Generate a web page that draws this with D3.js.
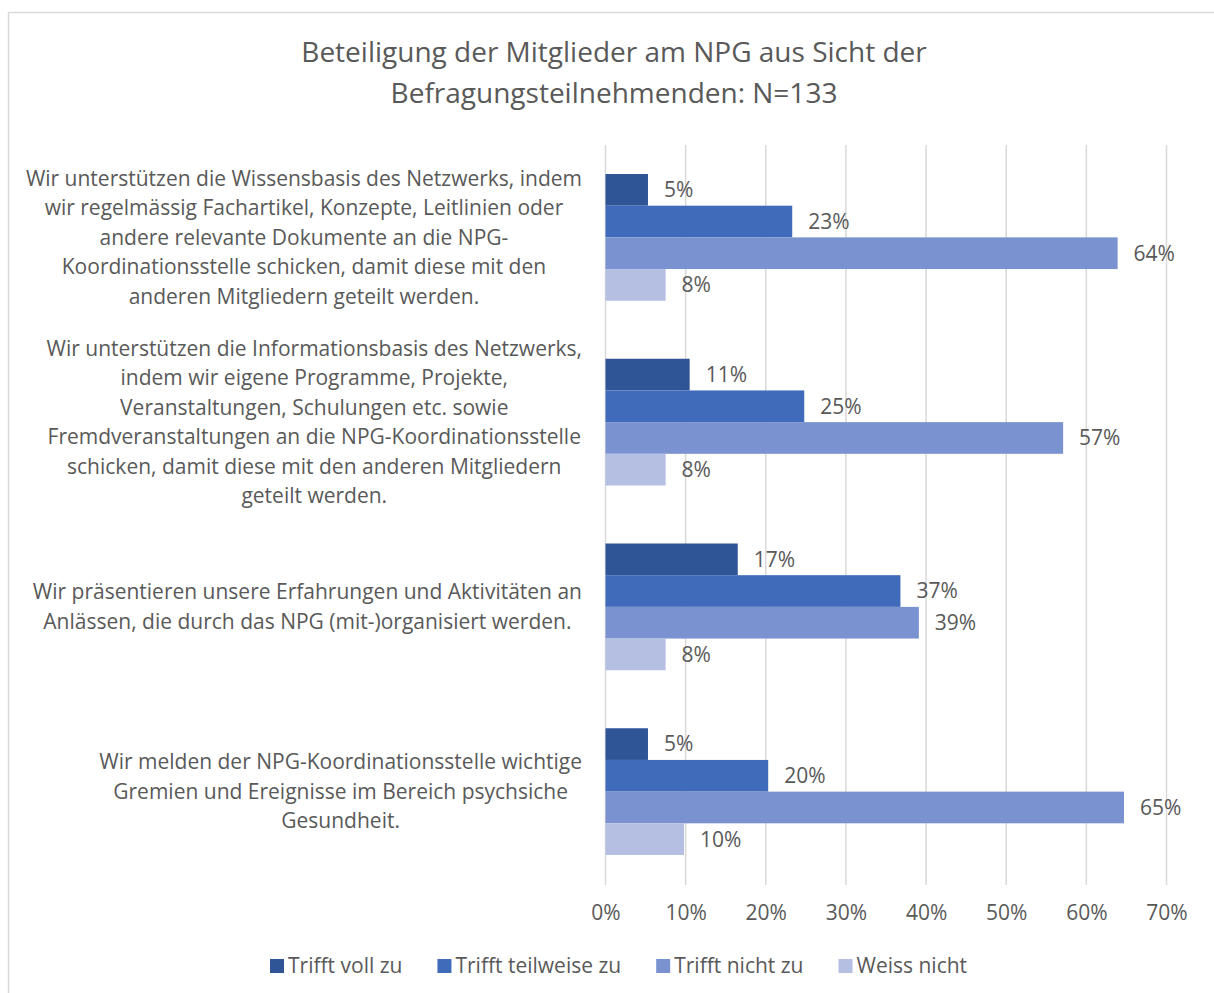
<!DOCTYPE html>
<html>
<head>
<meta charset="utf-8">
<script src="https://cdn.jsdelivr.net/npm/d3@7"></script>
<style>
  body { margin: 0; background: #fff; }
  text { font-family: "Open Sans", "Noto Sans", sans-serif; fill: #595959; }
</style>
</head>
<body>
<svg id="chart" width="1214" height="993"></svg>
<script>
// Chart data
const categories = [
  ["Wir unterstützen die Wissensbasis des Netzwerks, indem",
   "wir regelmässig Fachartikel, Konzepte, Leitlinien oder",
   "andere relevante Dokumente an die NPG-",
   "Koordinationsstelle schicken, damit diese mit den",
   "anderen Mitgliedern geteilt werden."],
  ["Wir unterstützen die Informationsbasis des Netzwerks,",
   "indem wir eigene Programme, Projekte,",
   "Veranstaltungen, Schulungen etc. sowie",
   "Fremdveranstaltungen an die NPG-Koordinationsstelle",
   "schicken, damit diese mit den anderen Mitgliedern",
   "geteilt werden."],
  ["Wir präsentieren unsere Erfahrungen und Aktivitäten an",
   "Anlässen, die durch das NPG (mit-)organisiert werden."],
  ["Wir melden der NPG-Koordinationsstelle wichtige",
   "Gremien und Ereignisse im Bereich psychsiche",
   "Gesundheit."]
];
const seriesNames = ["Trifft voll zu", "Trifft teilweise zu", "Trifft nicht zu", "Weiss nicht"];
const colors = ["#2F5597", "#3F6BBA", "#7A93D0", "#B4BFE1"];

// percent per category, one array per series
const voll      = [5.3, 10.5, 16.5, 5.3];
const teilweise = [23.3, 24.8, 36.8, 20.3];
const nicht     = [63.9, 57.1, 39.1, 64.7];
const weiss     = [7.5, 7.5, 7.5, 9.8];
const series = [voll, teilweise, nicht, weiss];

const xTicks = [0, 10, 20, 30, 40, 50, 60, 70];

const svg = d3.select("#chart");

// outer border
svg.append("rect")
  .attr("x", 8.5).attr("y", 12.5)
  .attr("width", 1214).attr("height", 1000)
  .attr("fill", "none")
  .attr("stroke", "#d9d9d9")
  .attr("stroke-width", 1.5);

// Title
const title = ["Beteiligung der Mitglieder am NPG aus Sicht der", "Befragungsteilnehmenden: N=133"];
svg.selectAll(".title").data(title).enter().append("text")
  .attr("class", "title")
  .attr("x", 614)
  .attr("y", (d, i) => 52 + i * 41)
  .attr("dy", "0.35em")
  .attr("text-anchor", "middle")
  .style("font-size", "28px")
  .text(d => d);

const x = d3.scaleLinear().domain([0, 70]).range([605.5, 1166.5]);
const y = d3.scaleBand()
  .domain(d3.range(categories.length))
  .range([145, 884])
  .paddingInner(0.314)
  .paddingOuter(0.157);
const ySub = d3.scaleBand().domain(d3.range(series.length)).range([0, y.bandwidth()]);

// gridlines
svg.append("g").selectAll("line").data(xTicks).enter().append("line")
  .attr("x1", d => x(d)).attr("x2", d => x(d))
  .attr("y1", 145).attr("y2", 885)
  .attr("stroke", "#d9d9d9")
  .attr("stroke-width", 1.5);

// x axis labels
const xAxis = d3.axisBottom(x).tickValues(xTicks).tickFormat(d => d + "%").tickSize(0).tickPadding(0);
const gx = svg.append("g").attr("transform", "translate(0,913)").call(xAxis);
gx.select(".domain").remove();
gx.selectAll("text").attr("dy", "0.35em").attr("y", 0).style("font-size", "21px");

// bars
series.forEach((vals, s) => {
  const g = svg.append("g");
  g.selectAll("rect").data(vals).enter().append("rect")
    .attr("x", x(0))
    .attr("y", (d, i) => y(i) + ySub(s))
    .attr("width", d => x(d) - x(0))
    .attr("height", ySub.bandwidth())
    .attr("fill", colors[s]);
  g.selectAll("text").data(vals).enter().append("text")
    .attr("x", d => x(d) + 16)
    .attr("y", (d, i) => y(i) + ySub(s) + ySub.bandwidth() / 2)
    .attr("dy", "0.35em")
    .style("font-size", "21px")
    .text(d => Math.round(d) + "%");
});

// category labels: centred in a box right-aligned to the axis
const lineH = 29.5;
categories.forEach((lines, i) => {
  const g = svg.append("g");
  const cy = y(i) + y.bandwidth() / 2;
  const texts = g.selectAll("text").data(lines).enter().append("text")
    .attr("y", (d, j) => cy + (j - (lines.length - 1) / 2) * lineH)
    .attr("dy", "0.35em")
    .attr("text-anchor", "middle")
    .style("font-size", "21px")
    .text(d => d);
  let maxW = 0;
  texts.each(function() { maxW = Math.max(maxW, this.getComputedTextLength()); });
  texts.attr("x", 582 - maxW / 2);
});

// legend
const legend = svg.append("g").attr("transform", "translate(270,966)");
let lx = 0;
seriesNames.forEach((name, s) => {
  const item = legend.append("g").attr("transform", `translate(${lx},0)`);
  item.append("rect").attr("x", 0).attr("y", -7).attr("width", 14).attr("height", 14).attr("fill", colors[s]);
  const t = item.append("text").attr("x", 18).attr("dy", "0.35em").style("font-size", "21px").text(name);
  lx += 18 + t.node().getComputedTextLength() + 35;
});
</script>
</body>
</html>
